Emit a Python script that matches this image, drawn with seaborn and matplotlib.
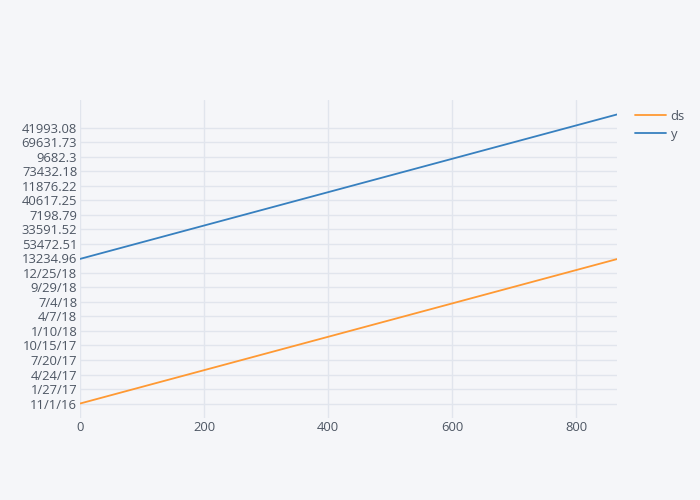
import pandas as pd
import seaborn as sns
import matplotlib.pyplot as plt

# -----------------------------------
# Data (categorical y-axis, 1734 categories)
# -----------------------------------

ds_labels = ["11/1/16", "1/27/17", "4/24/17", "7/20/17", "10/15/17",
             "1/10/18", "4/7/18", "7/4/18", "9/29/18", "12/25/18"]
y_labels = ["13234.96", "53472.51", "33591.52", "7198.79", "40617.25",
            "11876.22", "73432.18", "9682.3", "69631.73", "41993.08"]
tick_step = 87

series = ["ds", "ds", "y", "y"]
x_index = [0, 866, 0, 866]
y_category = [0, 866, 867, 1733]

colors = {"ds": "#FF9933", "y": "#3780BF"}

bg = "#F5F6F9"
grid = "#E1E5ED"
text = "#4D5663"

df = pd.DataFrame({"series": series, "x": x_index, "cat": y_category})

# -----------------------------------
# Plot
# -----------------------------------

sns.set_theme(style="white")
plt.rcParams["font.family"] = ["Open Sans", "DejaVu Sans"]

fig = plt.figure(figsize=(7, 5), dpi=100, facecolor=bg)
ax = fig.add_axes([80 / 700, 82 / 500, 537 / 700, 318 / 500])
ax.set_facecolor(bg)

sns.lineplot(
    data=df, x="x", y="cat", hue="series",
    palette=colors, linewidth=1.3, ax=ax, legend=False
)

labels = ds_labels + y_labels
ax.set_yticks([i * tick_step for i in range(len(labels))])
ax.set_yticklabels(labels)
ax.set_xticks([0, 200, 400, 600, 800])

ax.set_xlim(0, 866)
ax.set_ylim(-86.65, 1819.65)

ax.grid(True, color=grid, linewidth=1)
ax.set_axisbelow(True)
for s in ax.spines.values():
    s.set_visible(False)

ax.tick_params(axis="both", colors=text, labelsize=9.4, length=0, pad=2)
ax.set_xlabel("")
ax.set_ylabel("")

handles = [plt.Line2D([], [], color=colors[k], linewidth=1.3) for k in ["ds", "y"]]
fig.legend(
    handles, ["ds", "y"], loc="upper left",
    bbox_to_anchor=(623 / 700, 1 - 98 / 500),
    frameon=False, fontsize=9.4, labelcolor=text,
    handlelength=2.4, handletextpad=0.35, labelspacing=0.4
)

plt.savefig("out.png", facecolor=bg)
